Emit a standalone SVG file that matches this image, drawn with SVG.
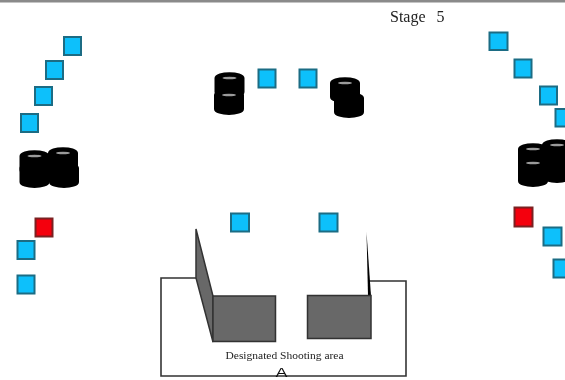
<svg xmlns="http://www.w3.org/2000/svg" xmlns:xlink="http://www.w3.org/1999/xlink" width="565" height="380" viewBox="0 0 565 380">
<style>
.t{fill:#10c0fb;stroke:#1d6c84;stroke-width:2}
.r{fill:#f40008;stroke:#7a2020;stroke-width:2}
.w{fill:#676767;stroke:#333;stroke-width:1.500}
.h{fill:#9a9a9a}
.b{fill:#000;stroke:#000;stroke-width:2;stroke-linejoin:round}
text{fill:#222;font-family:"Liberation Serif","Times New Roman",serif}
</style>
<defs>
<filter id="soft" x="-5%" y="-5%" width="110%" height="110%"><feGaussianBlur stdDeviation="0.7"/></filter>
<g id="barrel"><path class="b" d="M-14-7C-14-13.500 14-13.500 14-7V7C14 13.500-14 13.500-14 7Z"/><ellipse cx="0" cy="-7" rx="7" ry="1.300" class="h"/></g>
<g id="barrelPlain"><path class="b" d="M-14-7C-14-13.500 14-13.500 14-7V7C14 13.500-14 13.500-14 7Z"/></g>
</defs>
<rect width="565" height="380" fill="#fff"/>
<rect width="565" height="2.500" fill="#8a8a8a"/>
<g filter="url(#soft)">
<g id="connectors"/>
<g id="title"><text x="390" y="22" font-size="16" word-spacing="7">Stage 5</text></g>
<g id="targets-left">
<rect class="t" x="64" y="37" width="17" height="18"/>
<rect class="t" x="46" y="61" width="17" height="18"/>
<rect class="t" x="35" y="87" width="17" height="18"/>
<rect class="t" x="21" y="114" width="17" height="18"/>
<rect class="t" x="17.500" y="241" width="17" height="18"/>
<rect class="t" x="17.500" y="275.500" width="17" height="18"/>
</g>
<g id="target-red-left"><rect class="r" x="35.500" y="218.500" width="17" height="18"/></g>
<g id="barrels-left">
<use xlink:href="#barrelPlain" href="#barrelPlain" x="34.500" y="175"/>
<use xlink:href="#barrel" href="#barrel" x="34.500" y="163"/>
<use xlink:href="#barrel" href="#barrel" x="64" y="175"/>
<use xlink:href="#barrel" href="#barrel" x="63" y="160"/>
</g>
<g id="targets-middle">
<rect class="t" x="258.500" y="69.500" width="17" height="18"/>
<rect class="t" x="299.500" y="69.500" width="17" height="18"/>
</g>
<g id="barrels-middle">
<use xlink:href="#barrel" href="#barrel" x="229.500" y="85"/>
<use xlink:href="#barrel" href="#barrel" x="229" y="102"/>
<use xlink:href="#barrelPlain" href="#barrelPlain" x="349" y="105"/>
<use xlink:href="#barrel" href="#barrel" x="345" y="90"/>
</g>
<g id="targets-right">
<rect class="t" x="489.500" y="32.500" width="18" height="17.500"/>
<rect class="t" x="514.500" y="59.500" width="17" height="18"/>
<rect class="t" x="540" y="86.500" width="17" height="18"/>
<rect class="t" x="555.500" y="109" width="17" height="17.500"/>
<rect class="t" x="543.500" y="227.500" width="18" height="18"/>
<rect class="t" x="553.500" y="259.500" width="18" height="18"/>
</g>
<g id="target-red-right"><rect class="r" x="514.500" y="207.500" width="18" height="19"/></g>
<g id="barrels-right">
<use xlink:href="#barrelPlain" href="#barrelPlain" x="533" y="174"/>
<use xlink:href="#barrel" href="#barrel" x="533" y="156"/>
<use xlink:href="#barrel" href="#barrel" x="533" y="170"/>
<use xlink:href="#barrelPlain" href="#barrelPlain" x="557" y="170"/>
<use xlink:href="#barrel" href="#barrel" x="557" y="152"/>
</g>
<g id="targets-front">
<rect class="t" x="231" y="213.500" width="18" height="18"/>
<rect class="t" x="319.500" y="213.500" width="18" height="18"/>
</g>
<g id="shooting-area">
<path d="M197 278H161V376H406V281H369" fill="none" stroke="#333" stroke-width="1.600"/>
<text x="284.500" y="359" font-size="10" text-anchor="middle" textLength="118" lengthAdjust="spacingAndGlyphs">Designated Shooting area</text>
<text x="275.500" y="377" font-size="12" textLength="12" lengthAdjust="spacingAndGlyphs" style="font-family:'Liberation Sans',Arial,sans-serif;fill:#111">A</text>
</g>
<g id="wall-left">
<polygon class="w" points="196,229 213,296 213,342 196,278"/>
<rect class="w" x="213" y="296" width="62.500" height="45.500"/>
</g>
<g id="wall-right">
<polygon points="366.500,232 371,296 368,296" fill="#000"/>
<rect class="w" x="307.500" y="295.500" width="63.500" height="43"/>
</g>
</g>
</svg>
